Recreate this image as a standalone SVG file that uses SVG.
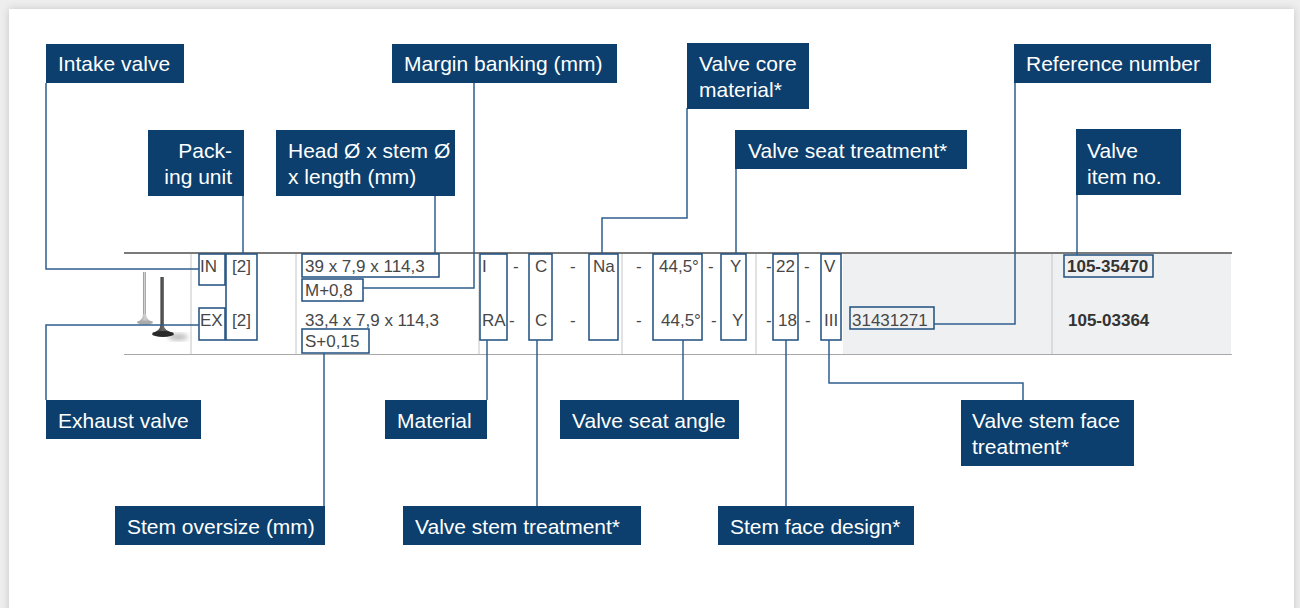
<svg xmlns="http://www.w3.org/2000/svg" width="1300" height="608" viewBox="0 0 1300 608">
<style>
.box rect{fill:#0c3f6d}
.box text{fill:#ffffff;font-family:"Liberation Sans",Arial,sans-serif;font-size:21px}
.cell{fill:#474747;font-family:"Liberation Sans",Arial,sans-serif;font-size:17px}
.b{font-weight:bold;fill:#333}
.hl{fill:none;stroke:#1f4f7e;stroke-width:1.5}
.con path{fill:none;stroke:#2f5f8e;stroke-width:1.5}
.sep{stroke:#c4c4c4;stroke-width:1}
</style>
<defs>
<filter id="sh" x="-5%" y="-5%" width="110%" height="110%">
<feGaussianBlur in="SourceAlpha" stdDeviation="4"/>
<feComponentTransfer><feFuncA type="linear" slope="0.18"/></feComponentTransfer>
<feMerge><feMergeNode/><feMergeNode in="SourceGraphic"/></feMerge>
</filter>
<filter id="blur"><feGaussianBlur stdDeviation="2.5"/></filter>
<linearGradient id="lv" x1="0" x2="1" y1="0" y2="0"><stop offset="0" stop-color="#8a8a8a"/><stop offset="0.5" stop-color="#d0d0d0"/><stop offset="1" stop-color="#9a9a9a"/></linearGradient>
<linearGradient id="dv" x1="0" x2="1" y1="0" y2="0"><stop offset="0" stop-color="#222"/><stop offset="0.5" stop-color="#666"/><stop offset="1" stop-color="#2a2a2a"/></linearGradient>
</defs>
<rect x="0" y="0" width="1300" height="608" fill="#eeeeee"/>
<rect x="9" y="9" width="1285" height="620" fill="#ffffff" filter="url(#sh)"/>

<g id="table">
<rect x="843" y="254" width="388" height="100" fill="#eff0f2"/>
<line x1="124" y1="253" x2="1232" y2="253" stroke="#7a7a7a" stroke-width="2"/>
<line x1="124" y1="354.5" x2="1232" y2="354.5" stroke="#a8a8a8" stroke-width="1"/>
<line class="sep" x1="191" y1="254" x2="191" y2="354"/>
<line class="sep" x1="296" y1="254" x2="296" y2="354"/>
<line class="sep" x1="479" y1="254" x2="479" y2="354"/>
<line class="sep" x1="622" y1="254" x2="622" y2="354"/>
<line class="sep" x1="756" y1="254" x2="756" y2="354"/>
<line class="sep" x1="1052" y1="254" x2="1052" y2="354"/>

<g id="valves">
<ellipse cx="178" cy="337" rx="10" ry="3.5" fill="#bbb" filter="url(#blur)"/>
<rect x="143" y="272" width="3" height="44" fill="url(#lv)"/>
<path d="M143,314 Q143,320 137,322 L153,322 Q146,320 146,314 Z" fill="url(#lv)"/>
<ellipse cx="145" cy="322.5" rx="8" ry="2" fill="#aaa"/>
<rect x="160.5" y="277" width="3.2" height="50" fill="url(#dv)"/>
<path d="M160.5,325 Q160,331 152,333 L174,333 Q164,331 163.7,325 Z" fill="url(#dv)"/>
<ellipse cx="163" cy="334" rx="11" ry="3" fill="#2a2a2a"/>
</g>

<rect class="hl" x="199" y="254" width="26" height="31"/>
<rect class="hl" x="226" y="254" width="31" height="86"/>
<rect class="hl" x="199" y="308" width="26" height="32"/>
<rect class="hl" x="302" y="254" width="137" height="23"/>
<rect class="hl" x="302" y="279" width="61" height="22"/>
<rect class="hl" x="302" y="329" width="67" height="24"/>
<rect class="hl" x="480" y="254" width="27" height="86"/>
<rect class="hl" x="529" y="254" width="23" height="86"/>
<rect class="hl" x="589" y="254" width="29" height="86"/>
<rect class="hl" x="653" y="254" width="49" height="86"/>
<rect class="hl" x="721" y="254" width="25" height="86"/>
<rect class="hl" x="773" y="254" width="25" height="86"/>
<rect class="hl" x="821" y="254" width="20" height="86"/>
<rect class="hl" x="850" y="307" width="84" height="22"/>
<rect class="hl" x="1064" y="255" width="89" height="22"/>

<text class="cell" x="200" y="272">IN</text>
<text class="cell" x="232" y="272">[2]</text>
<text class="cell" x="305" y="272">39 x 7,9 x 114,3</text>
<text class="cell" x="305" y="296">M+0,8</text>
<text class="cell" x="482" y="272">I</text>
<text class="cell" x="513" y="272">-</text>
<text class="cell" x="535" y="272">C</text>
<text class="cell" x="570" y="272">-</text>
<text class="cell" x="593" y="272">Na</text>
<text class="cell" x="636" y="272">-</text>
<text class="cell" x="659" y="272">44,5°</text>
<text class="cell" x="708" y="272">-</text>
<text class="cell" x="730" y="272">Y</text>
<text class="cell" x="766" y="272">-</text>
<text class="cell" x="776" y="272">22</text>
<text class="cell" x="804" y="272">-</text>
<text class="cell" x="824" y="272">V</text>
<text class="cell b" x="1067" y="272">105-35470</text>

<text class="cell" x="200" y="326">EX</text>
<text class="cell" x="232" y="326">[2]</text>
<text class="cell" x="305" y="326">33,4 x 7,9 x 114,3</text>
<text class="cell" x="305" y="347">S+0,15</text>
<text class="cell" x="482" y="326">RA</text>
<text class="cell" x="509" y="326">-</text>
<text class="cell" x="535" y="326">C</text>
<text class="cell" x="570" y="326">-</text>
<text class="cell" x="636" y="326">-</text>
<text class="cell" x="661" y="326">44,5°</text>
<text class="cell" x="711" y="326">-</text>
<text class="cell" x="732" y="326">Y</text>
<text class="cell" x="766" y="326">-</text>
<text class="cell" x="778" y="326">18</text>
<text class="cell" x="805" y="326">-</text>
<text class="cell" x="824" y="326">III</text>
<text class="cell" x="852" y="326">31431271</text>
<text class="cell b" x="1068" y="326">105-03364</text>
</g>

<g id="connectors" class="con">
<path d="M46,83 V269 H199"/>
<path d="M243,196 V254"/>
<path d="M435,196 V254"/>
<path d="M474,83 V288 H363"/>
<path d="M687,108 V218 H602 V254"/>
<path d="M736,169 V254"/>
<path d="M1015,83 V324 H934"/>
<path d="M1077,195 V255"/>
<path d="M199,325 H46 V400"/>
<path d="M324,353 V506"/>
<path d="M487,340 V400"/>
<path d="M537,340 V506"/>
<path d="M683,340 V400"/>
<path d="M786,340 V506"/>
<path d="M829,340 V383 H1023 V400"/>
</g>

<g id="intake-valve" class="box"><rect x="46" y="44" width="138" height="39"/><text x="58" y="71">Intake valve</text></g>
<g id="margin-banking" class="box"><rect x="392" y="44" width="225" height="39"/><text x="404" y="71">Margin banking (mm)</text></g>
<g id="valve-core-material" class="box"><rect x="687" y="43" width="122" height="66"/><text x="699" y="71">Valve core</text><text x="699" y="97">material*</text></g>
<g id="reference-number" class="box"><rect x="1014" y="44" width="197" height="39"/><text x="1026" y="71">Reference number</text></g>
<g id="packing-unit" class="box"><rect x="148" y="130" width="96" height="66"/><text x="232" y="158" text-anchor="end">Pack-</text><text x="232" y="184" text-anchor="end">ing unit</text></g>
<g id="head-stem-length" class="box"><rect x="276" y="130" width="179" height="66"/><text x="288" y="158">Head Ø x stem Ø</text><text x="288" y="184">x length (mm)</text></g>
<g id="valve-seat-treatment" class="box"><rect x="735" y="130" width="232" height="39"/><text x="748" y="158">Valve seat treatment*</text></g>
<g id="valve-item-no" class="box"><rect x="1076" y="129" width="105" height="66"/><text x="1087" y="158">Valve</text><text x="1087" y="184">item no.</text></g>
<g id="exhaust-valve" class="box"><rect x="46" y="400" width="155" height="39"/><text x="58" y="428">Exhaust valve</text></g>
<g id="material" class="box"><rect x="385" y="400" width="102" height="39"/><text x="397" y="428">Material</text></g>
<g id="valve-seat-angle" class="box"><rect x="560" y="400" width="179" height="39"/><text x="572" y="428">Valve seat angle</text></g>
<g id="valve-stem-face-treatment" class="box"><rect x="961" y="400" width="173" height="66"/><text x="972" y="428">Valve stem face</text><text x="972" y="454">treatment*</text></g>
<g id="stem-oversize" class="box"><rect x="115" y="506" width="210" height="39"/><text x="127" y="534">Stem oversize (mm)</text></g>
<g id="valve-stem-treatment" class="box"><rect x="403" y="506" width="238" height="39"/><text x="415" y="534">Valve stem treatment*</text></g>
<g id="stem-face-design" class="box"><rect x="718" y="506" width="196" height="39"/><text x="730" y="534">Stem face design*</text></g>
</svg>
